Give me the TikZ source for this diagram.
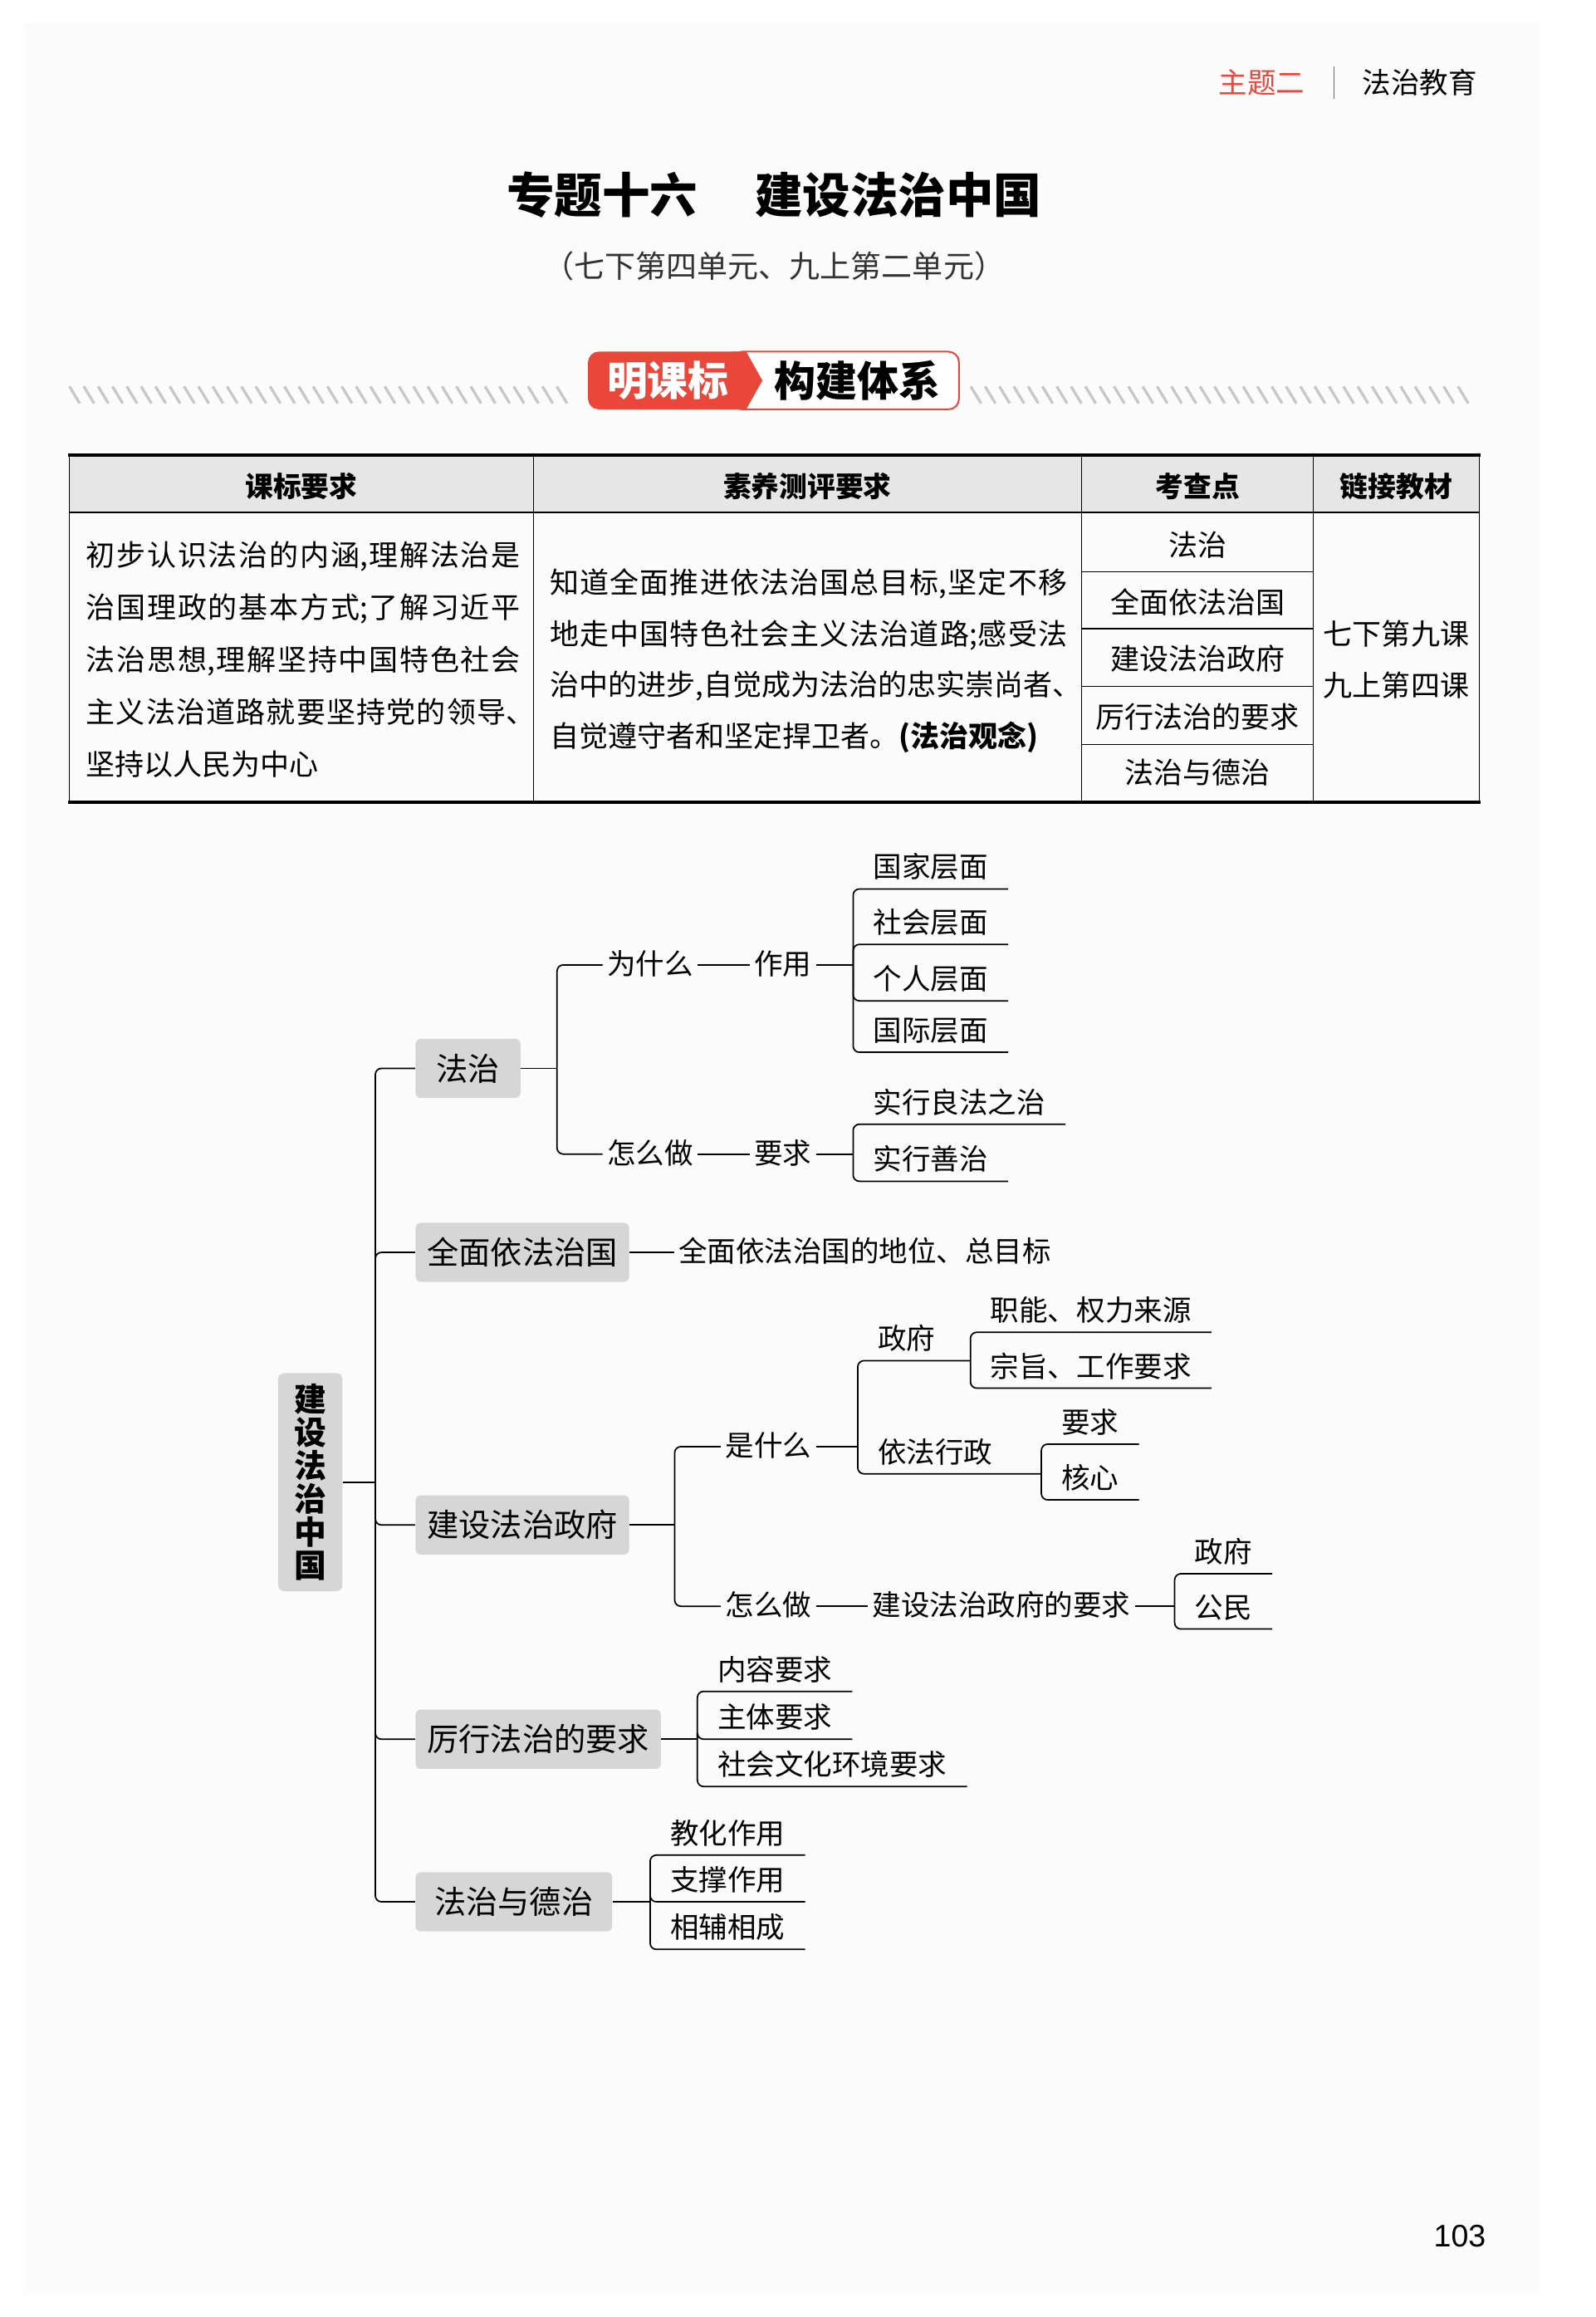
\documentclass[tikz,border=0pt]{standalone}
\usepackage{fontspec}
\setmainfont{Noto Sans CJK SC}
\newfontfamily\pagefont{Liberation Sans}
\usetikzlibrary{positioning}
\definecolor{bannerred}{HTML}{E8473A}
\definecolor{boxgray}{HTML}{D6D6D6}
\definecolor{headgray}{HTML}{E6E6E6}
\definecolor{pagegray}{HTML}{FBFBFB}
\XeTeXlinebreaklocale "zh"
\XeTeXlinebreakskip=0pt plus 2pt minus 1.5pt

\begin{document}
\begin{tikzpicture}[x=0.25mm,y=-0.25mm,node distance=8.8mm,
  topic/.style={fill=boxgray,rounded corners=2.5pt,inner xsep=5.5pt,minimum height=28.5pt,minimum width=50.5pt,font=\fontsize{15.3}{18}\selectfont},
  item/.style={inner xsep=2pt,inner ysep=2pt,text height=11.5pt,text depth=2.2pt,font=\fontsize{13.8}{16}\selectfont},
  leaf/.style={item,anchor=south west,inner xsep=9.5pt,inner ysep=3pt},
  link/.style={line width=0.7pt,rounded corners=3pt},
  hatch/.style={black!22,line width=1.3pt},
  head/.style={font=\bfseries\fontsize{13.5}{16}\selectfont},
  cell/.style={font=\fontsize{14}{16}\selectfont},
  para/.style={anchor=west,align=justify,inner xsep=0pt}]
\useasboundingbox (0,0) rectangle (1080,1568);
\fill[pagegray] (16,15) rectangle (1042,1553);

\node[text=bannerred,font=\fontsize{13.8}{16}\selectfont] (theme) at (854,56) {主题二};
\node[font=\fontsize{13.8}{16}\selectfont] (unit) at (961,56) {法治教育};
\draw[black!60,line width=0.5pt] (903,45) -- (903,67);
\node[font=\bfseries\fontsize{23}{26}\selectfont] (title) at (524,132) {专题十六\hspace{1.2em}建设法治中国};
\node[text=black!80,font=\fontsize{14.8}{16}\selectfont] (source) at (524,180) {（七下第四单元、九上第二单元）};

\foreach \hx in {47,56.7,...,385} \draw[hatch] (\hx,261.5) -- (\hx+7,273);
\foreach \hx in {657,666.7,...,995} \draw[hatch] (\hx,261.5) -- (\hx+7,273);
\draw[bannerred,line width=0.8pt,fill=white,rounded corners=5pt] (495,238) rectangle (649,277);
\fill[bannerred,rounded corners=5pt] (398,238) rectangle (505,277);
\fill[bannerred] (495,238) -- (505,238) -- (516,257.5) -- (505,277) -- (495,277) -- cycle;
\node[text=white,font=\bfseries\fontsize{19.5}{22}\selectfont] (bannerL) at (452,257.5) {明课标};
\node[font=\bfseries\fontsize{20}{22}\selectfont] (bannerR) at (580.5,257.5) {构建体系};

\fill[headgray] (47,308) rectangle (1001,347);
\draw[line width=0.5pt] (47,308) -- (47,543) (361,308) -- (361,543) (732,308) -- (732,543)
  (889,308) -- (889,543) (1001,308) -- (1001,543);
\foreach \ry in {387,425.5,464.5,504} \draw[line width=0.5pt] (732,\ry) -- (889,\ry);
\draw[line width=0.8pt] (47,347) -- (1001,347);
\draw[line width=1.6pt] (46,308) -- (1002,308) (46,543) -- (1002,543);
\node[head] (hStd) at (204,329) {课标要求};
\node[head] (hEval) at (546.5,329) {素养测评要求};
\node[head] (hPoint) at (810.5,329) {考查点};
\node[head] (hBook) at (945,329) {链接教材};
\node[para,text width=73.5mm,font=\fontsize{14}{25.2}\selectfont] (stdText) at (58,446.3) {\noindent
初步认识法治的内涵,理解法治是\linebreak%
治国理政的基本方式;了解习近平\linebreak%
法治思想,理解坚持中国特色社会\linebreak%
主义法治道路就要坚持党的领导、\kern-0.5em\linebreak%
坚持以人民为中心};
\node[para,text width=87.5mm,font=\fontsize{14}{24.7}\selectfont] (evalText) at (372,447.2) {\noindent
知道全面推进依法治国总目标,坚定不移\linebreak%
地走中国特色社会主义法治道路;感受法\linebreak%
治中的进步,自觉成为法治的忠实崇尚者、\kern-0.5em\linebreak%
自觉遵守者和坚定捍卫者。\textbf{(法治观念)}};
\node[cell] (kp1) at (810.5,369) {法治};
\node[cell] (kp2) at (810.5,407.4) {全面依法治国};
\node[cell] (kp3) at (810.5,445.8) {建设法治政府};
\node[cell] (kp4) at (810.5,485) {厉行法治的要求};
\node[cell] (kp5) at (810.5,522.6) {法治与德治};
\node[cell,align=center,font=\fontsize{14}{24.6}\selectfont] (bookText) at (945,446.3) {七下第九课\\九上第四课};

\node[fill=boxgray,rounded corners=3pt,minimum width=31pt,minimum height=105pt,inner sep=0pt,align=center,
  font=\bfseries\fontsize{15.5}{16}\selectfont] (root) at (210,1003) {建\\设\\法\\治\\中\\国};
\coordinate (trunk) at (254,1003);
\node[topic,anchor=west] (rule) at (281,723) {法治};
\node[topic,anchor=west] (whole) at (281,847.5) {全面依法治国};
\node[topic,anchor=west] (gov) at (281,1032) {建设法治政府};
\node[topic,anchor=west] (practice) at (281,1177) {厉行法治的要求};
\node[topic,anchor=west,minimum width=94.6pt] (moral) at (281,1287) {法治与德治};
\draw[link] (root.east) -- (trunk);
\foreach \t in {rule,whole,gov,practice,moral} \draw[link] (trunk) |- (\t.west);

\coordinate (ruleJ) at (377,723);
\node[item] (why) at (440,653) {为什么};
\node[item,right=of why] (effect) {作用};
\node[item] (howR) at (440,781) {怎么做};
\node[item,right=of howR] (needR) {要求};
\draw[link] (rule.east) -- (ruleJ);
\draw[link] (ruleJ) |- (why.west);
\draw[link] (ruleJ) |- (howR.west);
\draw[link] (why) -- (effect);
\draw[link] (howR) -- (needR);
\coordinate (effectJ) at (577.4,653);
\node[leaf] (nation) at (577.4,601.6) {国家层面};
\node[leaf] (society) at (577.4,639.1) {社会层面};
\node[leaf] (person) at (577.4,677.3) {个人层面};
\node[leaf] (world) at (577.4,712.1) {国际层面};
\draw[link] (effect) -- (effectJ);
\foreach \l in {nation,society,person,world} \draw[link] (effectJ) |- (\l.south east);
\coordinate (needJ) at (577.4,781);
\node[leaf] (goodlaw) at (577.4,760.8) {实行良法之治};
\node[leaf] (goodgov) at (577.4,799.4) {实行善治};
\draw[link] (needR) -- (needJ);
\foreach \l in {goodlaw,goodgov} \draw[link] (needJ) |- (\l.south east);

\node[item,right=7.5mm of whole] (goal) {全面依法治国的地位、总目标};
\draw[link] (whole) -- (goal);

\coordinate (govJ) at (456.6,1032);
\node[item] (what) at (520,979) {是什么};
\node[item] (howG) at (520,1087) {怎么做};
\draw[link] (gov) -- (govJ);
\draw[link] (govJ) |- (what.west);
\draw[link] (govJ) |- (howG.west);
\coordinate (whatJ) at (580.5,979);
\draw[link] (what) -- (whatJ);
\node[leaf] (agency) at (580.5,920.8) {政府};
\node[leaf] (admin) at (580.5,997.4) {依法行政};
\coordinate (agencyJ) at (656.8,920.8);
\coordinate (adminJ) at (704.8,997.4);
\draw[link] (whatJ) |- (agency.south east) -- (agencyJ);
\draw[link] (whatJ) |- (admin.south east) -- (adminJ);
\node[leaf] (duty) at (656.8,901.6) {职能、权力来源};
\node[leaf] (aim) at (656.8,939.4) {宗旨、工作要求};
\foreach \l in {duty,aim} \draw[link] (agencyJ) |- (\l.south east);
\node[leaf] (reqA) at (704.8,977.3) {要求};
\node[leaf] (core) at (704.8,1015) {核心};
\foreach \l in {reqA,core} \draw[link] (adminJ) |- (\l.south east);
\node[item,right=of howG] (govNeed) {建设法治政府的要求};
\draw[link] (howG) -- (govNeed);
\coordinate (govNeedJ) at (795,1087);
\draw[link] (govNeed) -- (govNeedJ);
\node[leaf] (state) at (795,1065) {政府};
\node[leaf] (citizen) at (795,1102.4) {公民};
\foreach \l in {state,citizen} \draw[link] (govNeedJ) |- (\l.south east);

\coordinate (practiceJ) at (472,1177);
\draw[link] (practice) -- (practiceJ);
\node[leaf] (content) at (472,1144.6) {内容要求};
\node[leaf] (subject) at (472,1177) {主体要求};
\node[leaf] (culture) at (472,1209) {社会文化环境要求};
\foreach \l in {content,subject,culture} \draw[link] (practiceJ) |- (\l.south east);

\coordinate (moralJ) at (440,1287);
\draw[link] (moral) -- (moralJ);
\node[leaf] (teach) at (440,1255.4) {教化作用};
\node[leaf] (support) at (440,1287) {支撑作用};
\node[leaf] (mutual) at (440,1319.2) {相辅相成};
\foreach \l in {teach,support,mutual} \draw[link] (moralJ) |- (\l.south east);

\node[font=\pagefont\fontsize{15}{16}\selectfont] (pageno) at (988,1513) {103};
\end{tikzpicture}
\end{document}
